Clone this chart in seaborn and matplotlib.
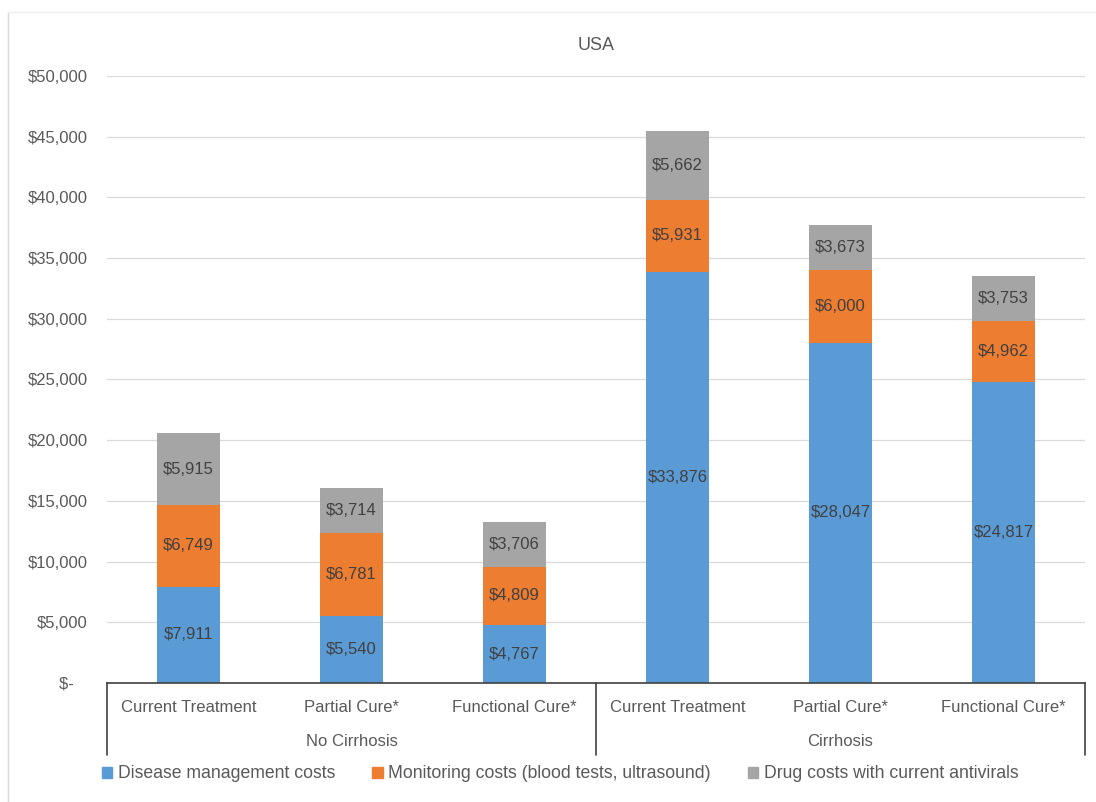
import numpy as np
import pandas as pd
import matplotlib
matplotlib.use("Agg")
import matplotlib.pyplot as plt
import seaborn as sns
from matplotlib.patches import Patch
from matplotlib.lines import Line2D
from matplotlib.ticker import FuncFormatter

# data
groups = ["No Cirrhosis", "Cirrhosis"]
treatments = ["Current Treatment", "Partial Cure*", "Functional Cure*"]
disease = [7911, 5540, 4767, 33876, 28047, 24817]
monitoring = [6749, 6781, 4809, 5931, 6000, 4962]
drug = [5915, 3714, 3706, 5662, 3673, 3753]
series = ["Disease management costs",
          "Monitoring costs (blood tests, ultrasound)",
          "Drug costs with current antivirals"]

blue = "#5B9BD5"
orange = "#ED7D31"
gray = "#A5A5A5"
txt = "#595959"

sns.set_style("white")
plt.rcParams['font.family'] = ['Liberation Sans', 'DejaVu Sans']

slots = [g + " | " + t for g in groups for t in treatments]
df = pd.DataFrame({'slot': slots, 'disease': disease,
                   'monitoring': monitoring, 'drug': drug})
df['layer2'] = df['disease'] + df['monitoring']
df['total'] = df['layer2'] + df['drug']

fig = plt.figure(figsize=(10.96, 8.02), dpi=100)
ax = fig.add_axes([107/1096, 119/802, 978/1096, 607/802])

# stacked by overdrawing cumulative sums back to front
for col, c in [('total', gray), ('layer2', orange), ('disease', blue)]:
    sns.barplot(data=df, x='slot', y=col, order=slots, color=c, width=0.39,
                saturation=1, errorbar=None, ax=ax, zorder=2, linewidth=0)

ax.set_ylim(0, 50000)
ax.set_yticks(range(0, 50001, 5000))
ax.yaxis.set_major_formatter(FuncFormatter(lambda v, p: f"${v:,.0f}" if v > 0 else "$-   "))
ax.yaxis.grid(True, color='#D9D9D9', lw=0.9)
ax.set_axisbelow(True)
for s in ['left', 'top', 'right']:
    ax.spines[s].set_visible(False)
ax.spines['bottom'].set_color('#404040')
ax.spines['bottom'].set_linewidth(1.2)
ax.set_xlabel('')
ax.set_ylabel('')
ax.set_xlim(-0.5, 5.5)
ax.set_xticks(range(6))
ax.set_xticklabels(treatments * 2)
ax.tick_params(axis='x', length=0, pad=12, labelsize=12, colors=txt)
ax.tick_params(axis='y', length=0, pad=14, labelsize=12, colors=txt)

# multi-level category box
tr = ax.get_xaxis_transform()
for xv in [-0.5, 2.5, 5.5]:
    ax.add_line(Line2D([xv, xv], [0, -0.119], transform=tr, color='#404040',
                       lw=1.2, clip_on=False))
for i, g in enumerate(groups):
    ax.text(1 + 3 * i, -0.097, g, transform=tr, ha='center', va='center',
            fontsize=12, color=txt)

# segment labels
for i in range(6):
    ax.text(i, disease[i] / 2, f"${disease[i]:,}", ha='center', va='center',
            fontsize=12, color='#404040', zorder=3)
    ax.text(i, disease[i] + monitoring[i] / 2, f"${monitoring[i]:,}", ha='center',
            va='center', fontsize=12, color='#404040', zorder=3)
    ax.text(i, disease[i] + monitoring[i] + drug[i] / 2, f"${drug[i]:,}",
            ha='center', va='center', fontsize=12, color='#404040', zorder=3)

ax.set_title("USA", fontsize=13, color=txt, pad=19)

handles = [Patch(color=c) for c in [blue, orange, gray]]
fig.legend(handles, series, loc='center', bbox_to_anchor=(0.511, 1 - 774/802),
           ncol=3, frameon=False, handlelength=0.6, handleheight=0.6,
           handletextpad=0.3, columnspacing=2.1, fontsize=12.7, labelcolor=txt)

# faint chart border (left/top)
fig.add_artist(Line2D([8/1096, 8/1096], [0, 1 - 12/802], transform=fig.transFigure,
                      color='#D9D9D9', lw=1))
fig.add_artist(Line2D([8/1096, 1], [1 - 12/802, 1 - 12/802], transform=fig.transFigure,
                      color='#EEEEEE', lw=1))

fig.savefig('out.png', dpi=100)
